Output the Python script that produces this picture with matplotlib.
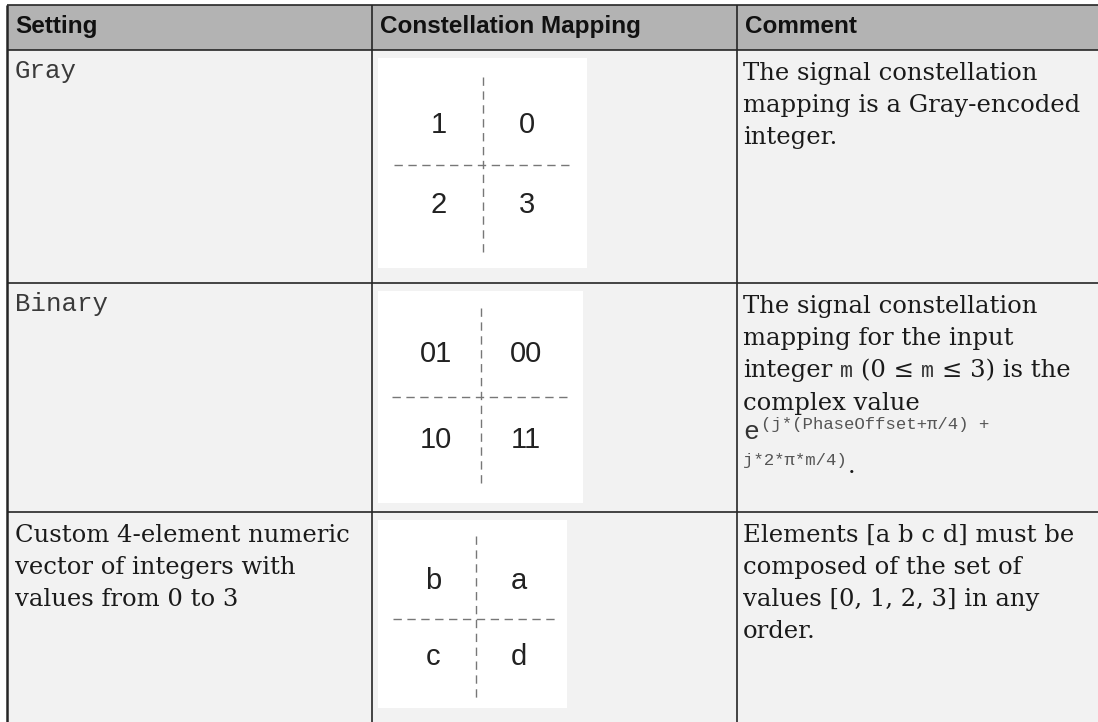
import matplotlib
matplotlib.use("Agg")
import matplotlib.pyplot as plt
from matplotlib.patches import Rectangle

W, H = 1098, 722

# table content
headers = ["Setting", "Constellation Mapping", "Comment"]
settings = [["Gray"], ["Binary"],
            ["Custom 4-element numeric", "vector of integers with", "values from 0 to 3"]]
setting_mono = [True, True, False]
# quadrant labels: top-left, top-right, bottom-left, bottom-right
mappings = [["1", "0", "2", "3"], ["01", "00", "10", "11"], ["b", "a", "c", "d"]]
comment_gray = ["The signal constellation", "mapping is a Gray-encoded", "integer."]
comment_binary = ["The signal constellation", "mapping for the input"]
comment_binary_m = [("integer", "serif"), ("m", "mono"), ("(0 \u2264", "serif"),
                    ("m", "mono"), ("\u2264 3) is the", "serif")]
comment_binary_end = ["complex value"]
exp_base = "e"
exp_sup = ["(j*(PhaseOffset+\u03c0/4) +", "j*2*\u03c0*m/4)"]
comment_custom = ["Elements [a b c d] must be", "composed of the set of",
                  "values [0, 1, 2, 3] in any", "order."]

SERIF = ["DejaVu Serif"]
MONO = ["Liberation Mono", "DejaVu Sans Mono"]
SANS = ["Liberation Sans", "DejaVu Sans"]
TXT = "#1a1a1a"
LINE = "#262626"
SERIF_SIZE = 17.5

fig = plt.figure(figsize=(W / 100, H / 100), dpi=100)
ax = fig.add_axes([0, 0, 1, 1])
ax.set_xlim(0, W)
ax.set_ylim(H, 0)
ax.axis("off")
renderer = fig.canvas.get_renderer()

col_x = [7, 372, 737, W]
row_y = [5, 50, 283, 512, H]

# backgrounds
ax.add_patch(Rectangle((col_x[0], row_y[0]), W - col_x[0], row_y[1] - row_y[0],
                       facecolor="#b3b3b3", edgecolor="none"))
ax.add_patch(Rectangle((col_x[0], row_y[1]), W - col_x[0], H - row_y[1],
                       facecolor="#f2f2f2", edgecolor="none"))

# grid lines
for y in row_y[:-1]:
    ax.plot([col_x[0], W], [y, y], color=LINE, lw=1.2, solid_capstyle="butt")
for x in col_x[1:-1]:
    ax.plot([x, x], [row_y[0], H], color=LINE, lw=1.2, solid_capstyle="butt")
ax.plot([col_x[0], col_x[0]], [row_y[0], H], color=LINE, lw=1.8, solid_capstyle="butt")

# header
for i, h in enumerate(headers):
    ax.text(col_x[i] + 8, 33, h, family=SANS, weight="bold", fontsize=17.5,
            color="#111111", va="baseline", ha="left")


def text_width(s, **kw):
    t = ax.text(0, 0, "x" + s + "x", **kw)
    t2 = ax.text(0, 0, "xx", **kw)
    w = t.get_window_extent(renderer).width - t2.get_window_extent(renderer).width
    t.remove()
    t2.remove()
    return w


def lines(x, y0, rows, step=32, mono=False):
    for k, s in enumerate(rows):
        if mono:
            ax.text(x, y0 + k * step, s, family=MONO, fontsize=18.5, color="#3a3a3a",
                    va="baseline")
        else:
            ax.text(x, y0 + k * step, s, family=SERIF, fontsize=SERIF_SIZE, color=TXT,
                    va="baseline")


# setting column
set_base = [78, 311, 542]
for i, rows in enumerate(settings):
    lines(col_x[0] + 8, set_base[i], rows, mono=setting_mono[i])

# comment column
cx0 = col_x[2] + 6
lines(cx0, 80, comment_gray)
lines(cx0, 313, comment_binary)
serif_kw = dict(family=SERIF, fontsize=SERIF_SIZE, color=TXT, va="baseline")
mono_kw = dict(family=MONO, fontsize=15.5, color="#333333", va="baseline")
space = text_width(" ", **serif_kw)
x = cx0
for j, (s, kind) in enumerate(comment_binary_m):
    kw = serif_kw if kind == "serif" else mono_kw
    ax.text(x, 377, s, **kw)
    x += text_width(s, **kw) + space
lines(cx0, 410, comment_binary_end)
ax.text(cx0, 439, exp_base, family=MONO, fontsize=19, color="#333333", va="baseline")
ew = text_width(exp_base, family=MONO, fontsize=19)
sup_kw = dict(family=MONO, fontsize=12.5, color="#555555", va="baseline")
for k, s in enumerate(exp_sup):
    ax.text(cx0 + ew + 2 if k == 0 else cx0, 429 + k * 36, s, **sup_kw)
sw = text_width(exp_sup[1], **sup_kw)
ax.text(cx0 + sw + 1, 473, ".", **serif_kw)
lines(cx0, 542, comment_custom)

# constellation pictures: box, cross centre, cross half-size, label offsets
boxes = [
    dict(box=(378, 58, 587, 268), c=(483, 165), half=(89, 88), off=(44, 40)),
    dict(box=(378, 291, 583, 503), c=(481, 397), half=(89, 89), off=(45, 43)),
    dict(box=(378, 520, 567, 708), c=(476, 619), half=(83, 83), off=(43, 38)),
]
for b, labels in zip(boxes, mappings):
    x0, y0, x1, y1 = b["box"]
    ax.add_patch(Rectangle((x0, y0), x1 - x0, y1 - y0, facecolor="white",
                           edgecolor="none"))
    cx, cy = b["c"]
    hx, hy = b["half"]
    ax.plot([cx, cx], [cy - hy, cy + hy], color="#777777", lw=1,
            dashes=(6, 4))
    ax.plot([cx - hx, cx + hx], [cy, cy], color="#777777", lw=1,
            dashes=(6, 4))
    ox, oy = b["off"]
    pts = [(cx - ox, cy - oy), (cx + ox, cy - oy), (cx - ox, cy + oy), (cx + ox, cy + oy)]
    for (px, py), lab in zip(pts, labels):
        ax.text(px, py, lab, family=SANS, fontsize=21, color="#222222",
                ha="center", va="center")

fig.savefig("out.png", dpi=100)
